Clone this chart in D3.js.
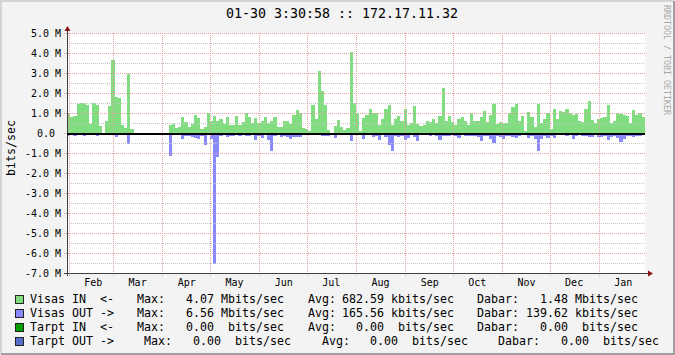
<!DOCTYPE html>
<html lang="lt">
<head>
<meta charset="UTF-8">
<title>172.17.11.32</title>
<script src="https://d3js.org/d3.v7.min.js"></script>
<style>
  body { margin: 0; background: #f3f3f3; }
  text { font-family: "DejaVu Sans Mono", monospace; fill: #000; }
</style>
</head>
<body>
<div id="chart"></div>
<script>
// data: one value per 2 days, Mbit/s
const startDate = new Date(2014, 0, 31);
const endDate = new Date(2015, 0, 30, 3, 30);
const stepDays = 2;

const visasIn = [
  0.95, 0.78, 0.83, 1.45, 1.5, 1.5, 1.42, 0.47, 1.5, 1.38,
  0.35, 0, 0.6, 1.35, 3.67, 1.82, 1.75, 0.4, 0.25, 2.97,
  0.2, 0, 0, 0, 0, 0, 0, 0, 0, 0,
  0, 0, 0.42, 0.45, 0.25, 0.28, 0.8, 0.55, 0.32, 0.45,
  0.9, 0.75, 0.2, 0.3, 1.0, 0.6, 0.83, 0.6, 0.7, 0.45,
  0.78, 0.42, 0.42, 0.85, 0.4, 0.55, 1.0, 0.8, 0.5, 0.75,
  0.5, 0.62, 0.8, 0.5, 0.6, 0.8, 0.3, 0.3, 0.6, 0.6,
  0.45, 0.9, 1.15, 1.0, 0.25, 0.2, 0.1, 1.42, 0.7, 3.12,
  2.12, 1.42, 0.17, 0, 0.33, 0.67, 0.28, 0.17, 0.25, 4.07,
  1.5, 1.0, 0.1, 0.75, 0.88, 1.2, 1.0, 1.0, 0.4, 0.7,
  1.2, 1.4, 0.4, 0.7, 0.85, 0.6, 1.2, 0.38, 0.5, 1.37,
  0.45, 0.35, 0.38, 0.6, 0.55, 0.7, 0.5, 0.85, 2.25, 0.6,
  0.87, 0.55, 0.4, 0.7, 0.8, 0.6, 0.4, 1.0, 0.6, 0.6,
  0.8, 1.1, 0.55, 0.9, 1.45, 0.45, 0.55, 0.5, 0.5, 1.0,
  1.3, 1.45, 0.6, 0.85, 0.1, 1.05, 0.8, 0.3, 1.45, 0.5,
  0.7, 1.0, 0.2, 1.2, 0.7, 1.1, 1.05, 1.2, 1.0, 0.9,
  0.95, 0.6, 0.55, 1.2, 1.6, 0.65, 0.5, 0.7, 0.75, 0.8,
  1.4, 0.5, 0.6, 1.0, 0.95, 0.9, 0.85, 0.5, 1.15, 0.9,
  1.0, 0.8, 1.47
];
const visasOut = [
  0.17, 0.07, 0.13, 0.07, 0.1, 0.13, 0.07, 0.07, 0.07, 0.13,
  0, 0, 0.1, 0.1, 0.07, 0.22, 0.07, 0.1, 0.1, 0.55,
  0.07, 0, 0, 0, 0, 0, 0, 0, 0, 0,
  0, 0, 1.17, 0.07, 0.05, 0.07, 0.28, 0.13, 0.17, 0.2,
  0.25, 0.28, 0.13, 0.58, 0.1, 0.3, 6.56, 1.2, 0.15, 0.12,
  0.2, 0.13, 0.17, 0.12, 0.13, 0.1, 0.14, 0.13, 0.1, 0.37,
  0.13, 0.25, 0.12, 0.35, 0.88, 0.15, 0.1, 0.2, 0.17, 0.22,
  0.3, 0.2, 0.22, 0.2, 0.08, 0.05, 0, 0.08, 0.08, 0.12,
  0.15, 0.13, 0.15, 0, 0.25, 0.08, 0.05, 0.05, 0.08, 0.42,
  0.08, 0.12, 0.05, 0.3, 0.12, 0.1, 0.18, 0.15, 0.33, 0.12,
  0.2, 0.58, 0.92, 0.15, 0.2, 0.15, 0.35, 0.25, 0.12, 0.2,
  0.42, 0.1, 0.12, 0.1, 0.15, 0.1, 0.15, 0.33, 0.13, 0.15,
  0.13, 0.1, 0.15, 0.25, 0.1, 0.15, 0.13, 0.13, 0.13, 0.2,
  0.38, 0.13, 0.13, 0.3, 0.5, 0.13, 0.2, 0.3, 0.13, 0.15,
  0.2, 0.25, 0.15, 0.1, 0.05, 0.25, 0.13, 0.3, 0.92, 0.3,
  0.17, 0.25, 0.15, 0.25, 0.1, 0.08, 0.1, 0.17, 0.08, 0.3,
  0.13, 0.08, 0.15, 0.13, 0.2, 0.2, 0.1, 0.2, 0.2, 0.15,
  0.35, 0.2, 0.15, 0.25, 0.45, 0.3, 0.13, 0.15, 0.2, 0.14,
  0.15, 0.12, 0.13
];

const yTicks = [5, 4, 3, 2, 1, 0, -1, -2, -3, -4, -5, -6, -7];
const yTickLabels = ["5.0 M", "4.0 M", "3.0 M", "2.0 M", "1.0 M", "0.0 ", "-1.0 M",
  "-2.0 M", "-3.0 M", "-4.0 M", "-5.0 M", "-6.0 M", "-7.0 M"];
const monthLabels = ["Feb", "Mar", "Apr", "May", "Jun", "Jul", "Aug", "Sep", "Oct", "Nov", "Dec", "Jan"];

const legendNames = ["Visas IN  <-", "Visas OUT ->", "Tarpt IN  <-", "Tarpt OUT ->"];
const legendColors = ["#80de80", "#8a8aff", "#00a000", "#5470cc"];
const legendMax = ["4.07", "6.56", "0.00", "0.00"];
const legendMaxUnit = ["Mbits/sec", "Mbits/sec", " bits/sec", " bits/sec"];
const legendAvg = ["682.59", "165.56", "0.00", "0.00"];
const legendAvgUnit = ["kbits/sec", "kbits/sec", " bits/sec", " bits/sec"];
const legendNow = ["1.48", "139.62", "0.00", "0.00"];
const legendNowUnit = ["Mbits/sec", "kbits/sec", " bits/sec", " bits/sec"];

const titleText = "01-30 3:30:58 :: 172.17.11.32";

// layout
const W = 675, H = 355;
const pL = 67, pR = 645, pT = 33, pB = 273;

const svg = d3.select("#chart").append("svg")
  .attr("width", W).attr("height", H)
  .style("display", "block");

// background + frame
svg.append("rect").attr("width", W).attr("height", H).attr("fill", "#f3f3f3");
svg.append("path").attr("d", `M1,${H - 1}V1H${W - 1}`).attr("fill", "none").attr("stroke", "#d4d4d4").attr("stroke-width", 2);
svg.append("path").attr("d", `M${W - 1},1V${H - 1}H1`).attr("fill", "none").attr("stroke", "#9e9e9e").attr("stroke-width", 2);

svg.append("rect").attr("x", pL).attr("y", pT)
  .attr("width", pR - pL).attr("height", pB - pT).attr("fill", "#fff");

const x = d3.scaleTime().domain([startDate, endDate]).range([pL, pR]);
const y = d3.scaleLinear().domain([-7, 5]).range([pB, pT]);

const days = visasIn.map((v, i) => d3.timeDay.offset(startDate, i * stepDays));
function barX(i) { return Math.round(x(days[i])); }
function barW(i) {
  const x1 = Math.min(x(d3.timeDay.offset(days[i], stepDays)), pR);
  return Math.max(0, Math.round(x1) - barX(i));
}

const bars = svg.append("g").attr("shape-rendering", "crispEdges");
bars.selectAll("rect.in").data(visasIn).join("rect")
  .attr("class", "in")
  .attr("x", (d, i) => barX(i))
  .attr("width", (d, i) => barW(i))
  .attr("y", d => Math.round(y(d)))
  .attr("height", d => Math.round(y(0)) - Math.round(y(d)))
  .attr("fill", legendColors[0]);
bars.selectAll("rect.out").data(visasOut).join("rect")
  .attr("class", "out")
  .attr("x", (d, i) => barX(i))
  .attr("width", (d, i) => barW(i))
  .attr("y", Math.round(y(0)))
  .attr("height", d => Math.round(y(-d)) - Math.round(y(0)))
  .attr("fill", legendColors[1]);

// grid (drawn over the bars like rrdtool)
const grid = svg.append("g").attr("shape-rendering", "crispEdges");
const minor = yTicks.slice(1).map(v => v + 0.5);
grid.selectAll("line.minor").data(minor).join("line")
  .attr("x1", pL).attr("x2", pR)
  .attr("y1", d => Math.round(y(d)) + 0.5).attr("y2", d => Math.round(y(d)) + 0.5)
  .attr("stroke", "#c4c4c4").attr("stroke-dasharray", "1,1");
grid.selectAll("line.major").data(yTicks).join("line")
  .attr("x1", pL - 3).attr("x2", pR)
  .attr("y1", d => Math.round(y(d)) + 0.5).attr("y2", d => Math.round(y(d)) + 0.5)
  .attr("stroke", "#e4a0a0").attr("stroke-dasharray", "1,1");
const monthStarts = d3.timeMonth.range(startDate, endDate);
grid.selectAll("line.month").data(monthStarts).join("line")
  .attr("x1", d => Math.round(x(d)) + 0.5).attr("x2", d => Math.round(x(d)) + 0.5)
  .attr("y1", pT).attr("y2", pB + 3)
  .attr("stroke", "#e4a0a0").attr("stroke-dasharray", "1,1");

// axes
const axes = svg.append("g").attr("shape-rendering", "crispEdges");
axes.append("line").attr("x1", pL + 0.5).attr("x2", pL + 0.5)
  .attr("y1", pB + 3).attr("y2", pT - 4).attr("stroke", "#404040");
axes.append("line").attr("x1", pL - 3).attr("x2", pR + 4)
  .attr("y1", pB + 0.5).attr("y2", pB + 0.5).attr("stroke", "#404040");
axes.append("line").attr("x1", pL).attr("x2", pR)
  .attr("y1", Math.round(y(0)) + 1).attr("y2", Math.round(y(0)) + 1)
  .attr("stroke", "#000").attr("stroke-width", 2);
svg.append("path").attr("d", `M${pL - 2.5},${pT - 2}L${pL + 0.5},${pT - 7}L${pL + 3.5},${pT - 2}Z`).attr("fill", "#8b1010");
svg.append("path").attr("d", `M${pR + 3},${pB - 2.5}L${pR + 8},${pB + 0.5}L${pR + 3},${pB + 3.5}Z`).attr("fill", "#8b1010");

// y labels
svg.append("g").attr("xml:space", "preserve").selectAll("text").data(yTicks).join("text")
  .attr("xml:space", "preserve")
  .attr("x", 61).attr("y", d => Math.round(y(d)) + 4)
  .attr("text-anchor", "end").style("font-size", "10px")
  .text((d, i) => yTickLabels[i]);

// month labels
svg.append("g").selectAll("text").data(monthStarts).join("text")
  .attr("x", d => x(new Date(d.getTime() + 15.5 * 864e5)))
  .attr("y", 286).attr("text-anchor", "middle").style("font-size", "10px")
  .text((d, i) => monthLabels[i]);

// title and side labels
svg.append("text").attr("x", 342).attr("y", 18).attr("text-anchor", "middle")
  .style("font-size", "13.3px").text(titleText);
svg.append("text").attr("transform", "translate(14.5,148) rotate(-90)")
  .attr("text-anchor", "middle").style("font-size", "11.6px").text("bits/sec");
svg.append("text").attr("transform", "translate(664,5) rotate(90)")
  .style("font-size", "8.3px").style("fill", "#a8a8a8").text("RRDTOOL / TOBI OETIKER");

// legend
const legend = svg.append("g").style("font-size", "11.63px").attr("xml:space", "preserve");
const rowShift = [0, 0, 0, 7];
function legendText(tx, ty, str, anchor) {
  legend.append("text").attr("xml:space", "preserve")
    .attr("x", tx).attr("y", ty).attr("text-anchor", anchor || "start").text(str);
}
legendNames.forEach((name, i) => {
  const by = 303 + i * 14, s = rowShift[i];
  legend.append("rect").attr("x", 15.5).attr("y", by - 7.5).attr("width", 8).attr("height", 8)
    .attr("fill", legendColors[i]).attr("stroke", "#222").attr("shape-rendering", "crispEdges");
  legendText(30, by, name);
  legendText(137 + s, by, "Max:");
  legendText(214 + s, by, legendMax[i], "end");
  legendText(221 + s, by, legendMaxUnit[i]);
  legendText(308 + 2 * s, by, "Avg:");
  legendText(384 + 2 * s, by, legendAvg[i], "end");
  legendText(391 + 2 * s, by, legendAvgUnit[i]);
  legendText(477 + 3 * s, by, "Dabar:");
  legendText(568 + 3 * s, by, legendNow[i], "end");
  legendText(575 + 3 * s, by, legendNowUnit[i]);
});
</script>
</body>
</html>
